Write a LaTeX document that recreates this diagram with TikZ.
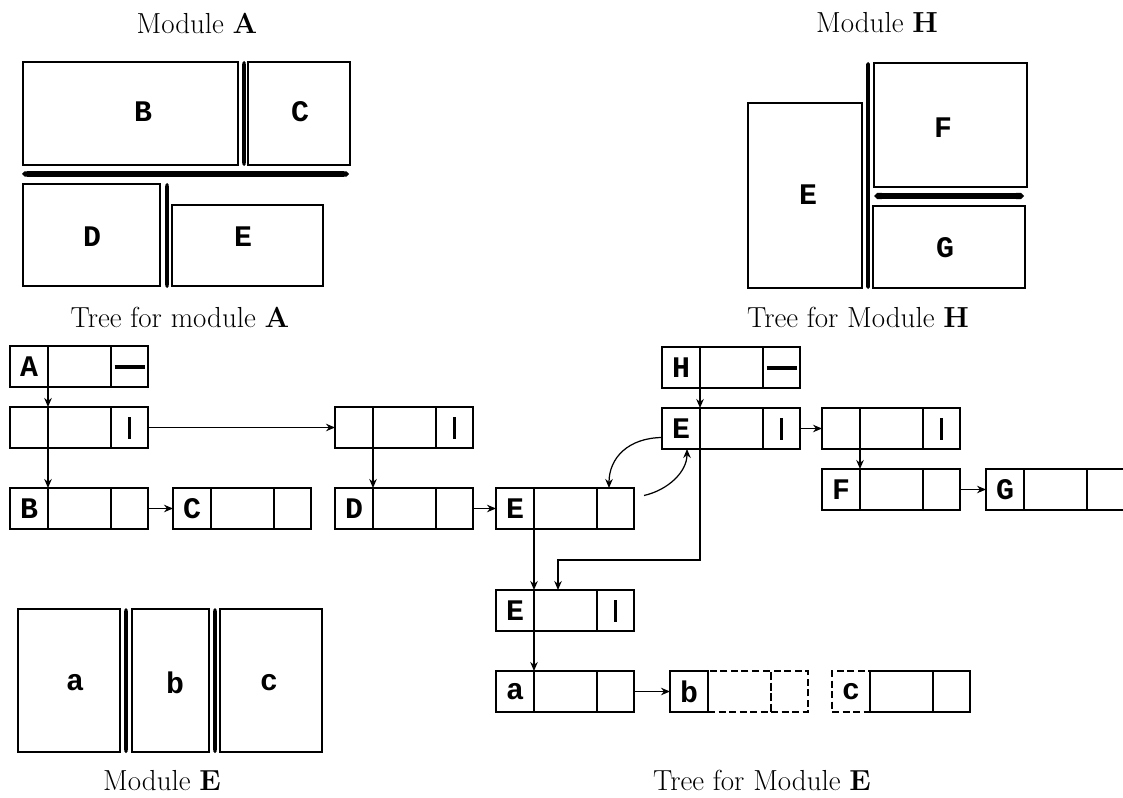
\documentclass[tikz,border=0pt]{standalone}
\usepackage{fontspec}
\newfontfamily\boxfontfam{Liberation Mono}
\usetikzlibrary{calc,arrows.meta,positioning}

\newcommand{\boxfont}{\boxfontfam\bfseries\fontsize{17}{17}\selectfont}
\newcommand{\titlefont}{\fontsize{16.5}{19}\selectfont}
\newcommand{\nilmark}{\rule{6mm}{0.8mm}}
\newcommand{\linkmark}{\rule{0.55mm}{4.4mm}}

\tikzset{
  blk/.style={draw,line width=1pt},
  lcell/.style={draw,line width=1pt,minimum width=7.6mm,minimum height=8.2mm,
    inner sep=0pt,outer sep=0pt,font=\boxfont},
  mcell/.style={lcell,minimum width=12.6mm},
  rcell/.style={lcell,minimum width=7.4mm},
  ptr/.style={-{Stealth[length=1.8mm,width=1.5mm]},line width=0.7pt},
  sepbar/.style={{Triangle Cap}-{Triangle Cap},line width=#1},
  sepbar/.default=1.8pt,
  title/.style={font=\titlefont}
}

% one list record: name, left, top, label, right cell
\newcommand{\listrec}[5]{%
  \node[lcell,anchor=north west] (#1) at (#2,#3) {#4};
  \node[mcell,right=0pt of #1] (#1m) {};
  \node[rcell,right=0pt of #1m] (#1r) {#5};
}

\begin{document}
\begin{tikzpicture}[x=0.2mm,y=-0.2mm]
  \useasboundingbox (0,0) rectangle (1123,798);

  % module A
  \node[title] (tiA) at (197,23) {Module \textbf{A}};
  \draw[blk] (23,62) rectangle (238,165);
  \draw[blk] (248,62) rectangle (350,165);
  \draw[blk] (23,184) rectangle (160,286);
  \draw[blk] (172,205) rectangle (323,286);
  \draw[sepbar] (244,61) -- (244,166);
  \draw[sepbar=3pt] (22,174) -- (349,174);
  \draw[sepbar] (167,183) -- (167,288);
  \node[font=\boxfont] (mB) at (143,112) {B};
  \node[font=\boxfont] (mC) at (300,112) {C};
  \node[font=\boxfont] (mD) at (92,237) {D};
  \node[font=\boxfont] (mE) at (243,237) {E};

  % module H
  \node[title] (tiH) at (877,23) {Module \textbf{H}};
  \draw[blk] (748,103) rectangle (862,288);
  \draw[blk] (874,63) rectangle (1027,187);
  \draw[blk] (873,206) rectangle (1025,288);
  \draw[sepbar=2.2pt] (868,62) -- (868,289);
  \draw[sepbar=3.6pt] (874,196) -- (1024,196);
  \node[font=\boxfont] (mHE) at (808,195) {E};
  \node[font=\boxfont] (mF) at (943,128) {F};
  \node[font=\boxfont] (mG) at (945,248) {G};

  % module E
  \node[title] (tiE) at (162,781) {Module \textbf{E}};
  \draw[blk] (18,609) rectangle (120,752);
  \draw[blk] (132,609) rectangle (209,752);
  \draw[blk] (220,609) rectangle (322,752);
  \draw[sepbar] (126,608) -- (126,753);
  \draw[sepbar] (215,608) -- (215,753);
  \node[font=\boxfont] (ma) at (75,683) {a};
  \node[font=\boxfont] (mb) at (175,683) {b};
  \node[font=\boxfont] (mc) at (269,683) {c};

  % tree for A
  \node[title] (ttA) at (180,317) {Tree for module \textbf{A}};
  \listrec{tA}{10}{346}{A}{\nilmark}
  \listrec{tR1}{10}{407}{}{\linkmark}
  \listrec{tR2}{335}{407}{}{\linkmark}
  \listrec{tB}{10}{488}{B}{}
  \listrec{tC}{173}{488}{C}{}
  \listrec{tD}{335}{488}{D}{}
  \listrec{tE}{496}{488}{E}{}
  \draw[ptr] (tA.south east) -- (tR1.north east);
  \draw[ptr] (tR1.south east) -- (tB.north east);
  \draw[ptr] (tR1r.east) -- (tR2.west);
  \draw[ptr] (tR2.south east) -- (tD.north east);
  \draw[ptr] (tBr.east) -- (tC.west);
  \draw[ptr] (tDr.east) -- (tE.west);

  % tree for H
  \node[title] (ttH) at (858,317) {Tree for Module \textbf{H}};
  \listrec{tH}{662}{347}{H}{\nilmark}
  \listrec{tHE}{662}{408}{E}{\linkmark}
  \listrec{tR3}{822}{408}{}{\linkmark}
  \listrec{tF}{822}{469}{F}{}
  \listrec{tG}{986}{469}{G}{}
  \draw[ptr] (tH.south east) -- (tHE.north east);
  \draw[ptr] (tHEr.east) -- (tR3.west);
  \draw[ptr] (tR3.south east) -- (tF.north east);
  \draw[ptr] (tFr.east) -- (tG.west);
  \draw[ptr] ($(tHE.west)+(0,9)$) .. controls (628,438) and (609,458) .. ($(tEr.north west)+(12,0)$);
  \draw[ptr] ($(tEr.east)+(10,-13)$) .. controls (668,490) and (687,472) .. ($(tHE.south west)+(25,0)$);

  % tree for E
  \node[title] (ttE) at (762,780) {Tree for Module \textbf{E}};
  \listrec{tEp}{496}{590}{E}{\linkmark}
  \listrec{ta}{496}{671}{a}{}
  \node[lcell,anchor=north west] (tb) at (670,671) {b};
  \node[mcell,dash pattern=on 4pt off 2pt,right=0pt of tb] (tbm) {};
  \node[rcell,dash pattern=on 4pt off 2pt,right=0pt of tbm] (tbr) {};
  \node[lcell,dash pattern=on 4pt off 2pt,anchor=north west] (tc) at (832,671) {c};
  \node[mcell,right=0pt of tc] (tcm) {};
  \node[rcell,right=0pt of tcm] (tcr) {};
  \coordinate (bend) at (558,560);
  \draw[ptr] (tE.south east) -- (tEp.north east);
  \draw[ptr] (tHE.south east) |- (bend) -- (bend |- tEp.north);
  \draw[ptr] (tEp.south east) -- (ta.north east);
  \draw[ptr] (tar.east) -- (tb.west);
\end{tikzpicture}
\end{document}
